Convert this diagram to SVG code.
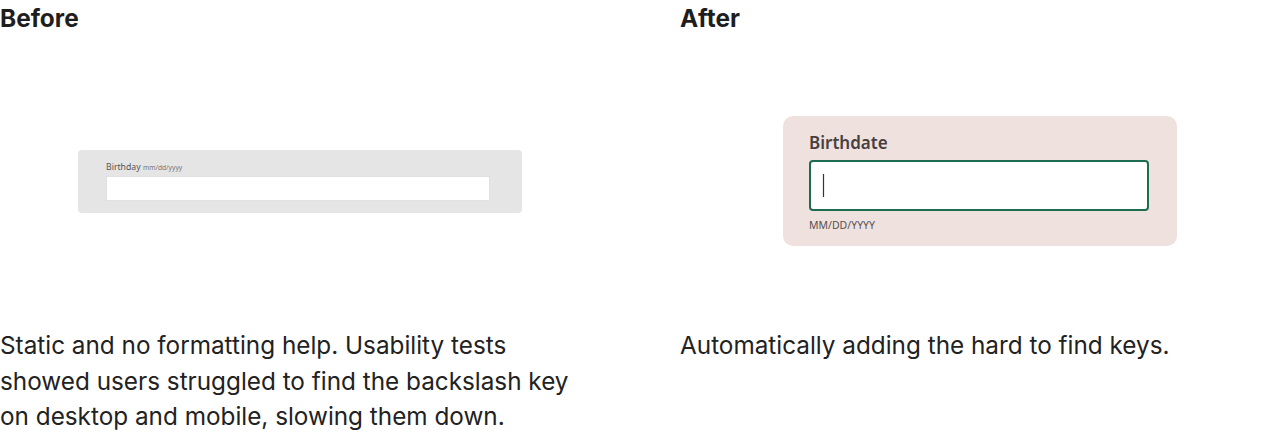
<svg xmlns="http://www.w3.org/2000/svg" width="1280" height="434" viewBox="0 0 1280 434">
  <style>
    .h{font-family:Inter,"Liberation Sans",sans-serif;font-weight:700;font-size:24.4px;fill:#1e1e1e}
    .b{font-family:Inter,"Liberation Sans",sans-serif;font-weight:400;font-size:24.3px;fill:#222}
    .n{font-family:"Noto Sans","Open Sans",sans-serif}
  </style>
  <rect width="1280" height="434" fill="#fff"/>
  <g id="before">
    <text class="h" x="0" y="26.5">Before</text>
    <g id="before-field">
      <rect x="78" y="150" width="444" height="63" rx="4" fill="#e5e5e5"/>
      <text class="n" x="106" y="169.5" font-size="8.7" fill="#555">Birthday <tspan font-size="6.7" fill="#777">mm/dd/yyyy</tspan></text>
      <rect x="106.5" y="176.5" width="383" height="24" fill="#fff" stroke="#dcdcdc" stroke-width="0.8"/>
    </g>
    <text class="b" x="0" y="353.5">Static and no formatting help. Usability tests</text>
    <text class="b" x="0" y="389.5">showed users struggled to find the backslash key</text>
    <text class="b" x="0" y="425">on desktop and mobile, slowing them down.</text>
  </g>
  <g id="after">
    <text class="h" x="680" y="26.5">After</text>
    <g id="after-field">
      <rect x="783" y="116" width="394" height="130" rx="10" fill="#efe1de"/>
      <text class="n" x="809" y="148.5" font-size="17" font-weight="600" fill="#483f3f">Birthdate</text>
      <rect x="810" y="161" width="338" height="49" rx="3" fill="#fff" stroke="#1d6b50" stroke-width="2"/>
      <line x1="823.5" y1="174" x2="823.5" y2="197" stroke="#333" stroke-width="1.2"/>
      <text class="n" x="809" y="229" font-size="10.5" fill="#5a5050">MM/DD/YYYY</text>
    </g>
    <text class="b" x="680" y="353.5">Automatically adding the hard to find keys.</text>
  </g>
</svg>
